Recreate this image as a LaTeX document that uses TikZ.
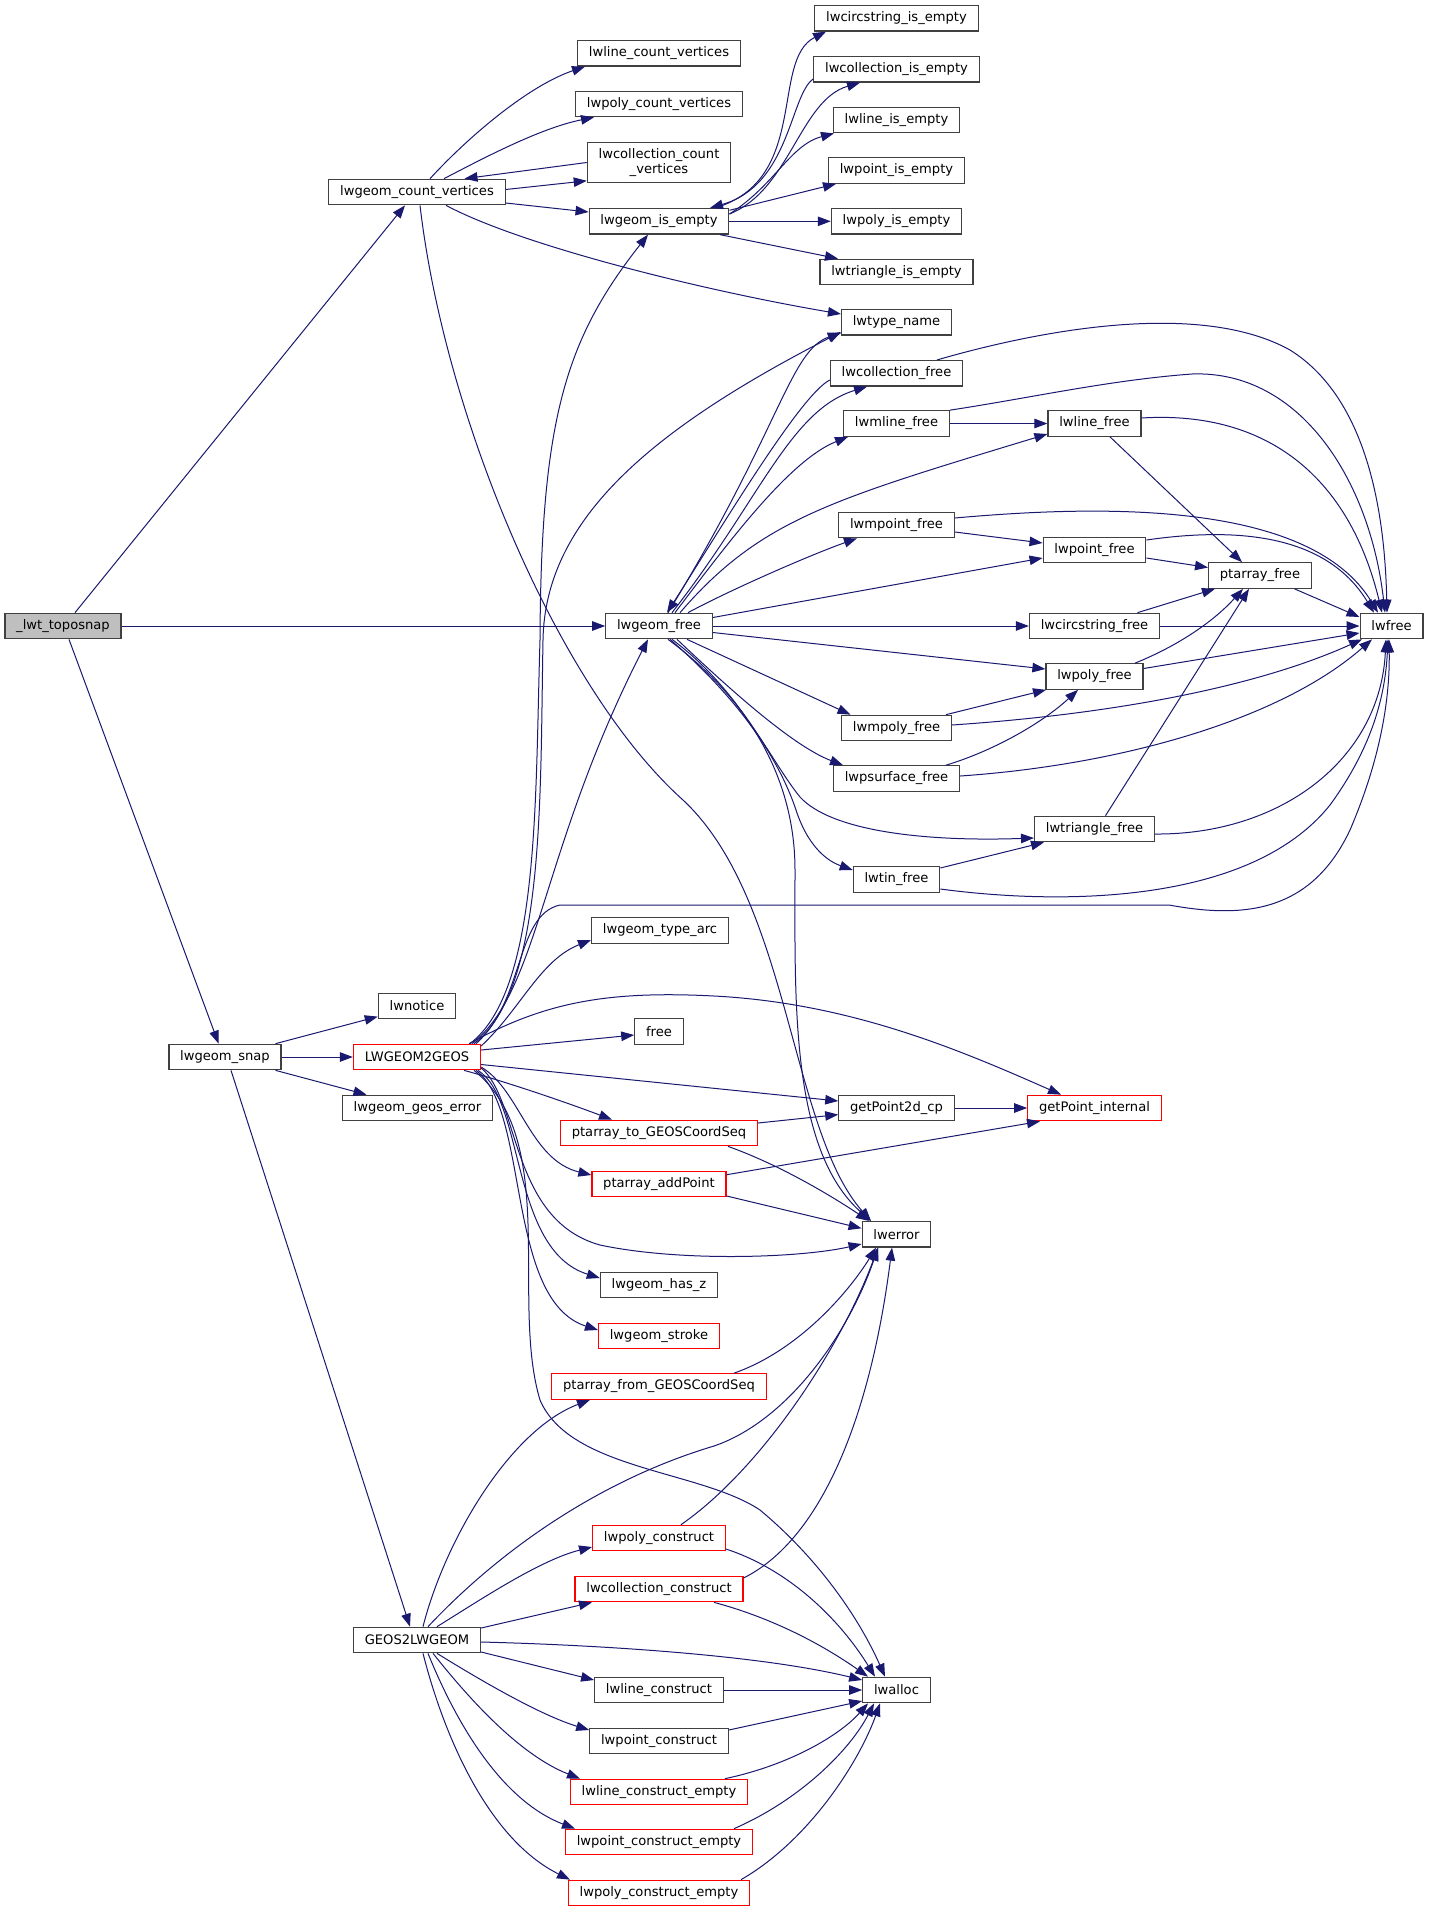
\documentclass[tikz,border=0pt]{standalone}
\usepackage{fontspec}
\setmainfont{DejaVu Sans}
\usetikzlibrary{arrows.meta}
\definecolor{edgeblue}{HTML}{191970}
\definecolor{rootgray}{HTML}{BFBFBF}
\begin{document}
\begin{tikzpicture}[x=1pt,y=-1pt,>={Triangle[length=13pt,width=9.5pt]},
    fn/.style={draw=black!75,fill=white,line width=1.2pt,minimum height=25.5pt,inner xsep=11.3pt,inner ysep=1pt,font=\fontsize{13.1pt}{14.5pt}\selectfont},
    fnred/.style={fn,draw=red},
    fnroot/.style={fn,fill=rootgray},
    calls/.style={->,color=edgeblue,line width=1pt}]
    \fill[white] (0,0) rectangle (1428,1912);
    \useasboundingbox (0,0) rectangle (1428,1912);

    \node[fnroot] (T) at (63,626) {\_lwt\_toposnap};
    \node[fn] (S) at (225,1057) {lwgeom\_snap};
    \node[fn] (CV) at (417,192) {lwgeom\_count\_vertices};
    \node[fn] (N) at (417,1006) {lwnotice};
    \node[fnred] (L2G) at (417,1057) {LWGEOM2GEOS};
    \node[fn] (GE) at (417.5,1108) {lwgeom\_geos\_error};
    \node[fn] (G2L) at (417,1640) {GEOS2LWGEOM};

    \node[fn] (LCV) at (659,53.3) {lwline\_count\_vertices};
    \node[fn] (PCV) at (659,104) {lwpoly\_count\_vertices};
    \node[fn,align=center,minimum height=40pt] (CCV) at (659,162.5) {lwcollection\_count\\\_vertices};
    \node[fn] (IE) at (659,221.3) {lwgeom\_is\_empty};
    \node[fn] (F) at (659,626) {lwgeom\_free};
    \node[fn] (TA) at (660,930.5) {lwgeom\_type\_arc};
    \node[fn] (FR) at (659,1031.5) {free};
    \node[fnred] (TGS) at (659,1133) {ptarray\_to\_GEOSCoordSeq};
    \node[fnred] (AP) at (659,1184) {ptarray\_addPoint};
    \node[fn] (HZ) at (659,1285) {lwgeom\_has\_z};
    \node[fnred] (ST) at (659,1336) {lwgeom\_stroke};
    \node[fnred] (FGS) at (659,1386.5) {ptarray\_from\_GEOSCoordSeq};
    \node[fnred] (PC) at (659,1538) {lwpoly\_construct};
    \node[fnred] (CC) at (659,1589) {lwcollection\_construct};
    \node[fn] (LC) at (659,1690) {lwline\_construct};
    \node[fn] (PtC) at (659,1741) {lwpoint\_construct};
    \node[fnred] (LCE) at (659,1792) {lwline\_construct\_empty};
    \node[fnred] (PtCE) at (659,1842) {lwpoint\_construct\_empty};
    \node[fnred] (PCE) at (659,1893) {lwpoly\_construct\_empty};

    \node[fn] (CSE) at (896.5,18.3) {lwcircstring\_is\_empty};
    \node[fn] (CoE) at (896.5,69.3) {lwcollection\_is\_empty};
    \node[fn] (LE) at (896.5,120) {lwline\_is\_empty};
    \node[fn] (PtE) at (896.5,170.5) {lwpoint\_is\_empty};
    \node[fn] (PE) at (896.5,221.3) {lwpoly\_is\_empty};
    \node[fn] (TrE) at (896.5,272) {lwtriangle\_is\_empty};
    \node[fn] (TN) at (896.5,322.3) {lwtype\_name};
    \node[fn] (CoF) at (896.5,373.3) {lwcollection\_free};
    \node[fn] (MLF) at (896.5,423.5) {lwmline\_free};
    \node[fn] (MPtF) at (896.5,525) {lwmpoint\_free};
    \node[fn] (MPF) at (896.5,728) {lwmpoly\_free};
    \node[fn] (PSF) at (896.5,778.5) {lwpsurface\_free};
    \node[fn] (TinF) at (896.5,879.5) {lwtin\_free};
    \node[fn] (P2D) at (896.5,1108) {getPoint2d\_cp};
    \node[fn] (ER) at (896.5,1234.3) {lwerror};
    \node[fn] (AL) at (896.5,1690) {lwalloc};

    \node[fn] (LF) at (1094.5,423.5) {lwline\_free};
    \node[fn] (PtF) at (1094.5,550) {lwpoint\_free};
    \node[fn] (CSF) at (1094.5,626) {lwcircstring\_free};
    \node[fn] (PF) at (1094.5,676.5) {lwpoly\_free};
    \node[fn] (TrF) at (1094.5,829) {lwtriangle\_free};
    \node[fnred] (GPI) at (1094.5,1108) {getPoint\_internal};
    \node[fn] (PAF) at (1260,575.5) {ptarray\_free};
    \node[fn] (LWF) at (1391.5,626) {lwfree};

    \draw[calls] ([xshift=12pt]T.north) -- ([xshift=-12pt]CV.south);
    \draw[calls] (T.east) -- (F.west);
    \draw[calls] ([xshift=6pt]T.south) -- ([xshift=-6.4pt]S.north);

    \draw[calls] ([xshift=13pt]CV.north) .. controls (470,135) and (530,85) .. ([xshift=-74pt]LCV.south);
    \draw[calls] ([xshift=27pt]CV.north) .. controls (480,160) and (540,128) .. ([xshift=-65pt]PCV.south);
    \draw[calls] ([yshift=2.5pt]CV.east) -- ([yshift=-18.3pt]CCV.west);
    \draw[calls] (CCV.west) -- ([xshift=47.5pt]CV.north);
    \draw[calls] ([yshift=-11pt]CV.east) -- ([yshift=9.3pt]IE.west);
    \draw[calls] ([xshift=29pt]CV.south) .. controls (520,245) and (700,290) .. ([yshift=8.3pt]TN.west);
    \draw[calls] ([xshift=3pt]CV.south) .. controls (445,420) and (560,690) .. (683,800) .. controls (790,900) and (790,1130) .. ([xshift=-25.5pt]ER.north);

    \draw[calls] ([xshift=56pt]IE.north) .. controls (810,180) and (770,60) .. ([xshift=-70.5pt]CSE.south);
    \draw[calls] ([yshift=7.3pt]IE.east) .. controls (790,190) and (800,100) .. ([xshift=-36.5pt]CoE.south);
    \draw[calls] ([yshift=-9.7pt]CoE.west) .. controls (790,95) and (790,185) .. ([xshift=51pt]IE.north);
    \draw[calls] ([yshift=7.3pt]IE.east) .. controls (775,185) and (790,145) .. ([xshift=-62.5pt]LE.south);
    \draw[calls] ([yshift=11pt]IE.east) -- ([xshift=-60.5pt]PtE.south);
    \draw[calls] (IE.east) -- (PE.west);
    \draw[calls] ([xshift=61pt]IE.south) -- ([xshift=-58.5pt]TrE.north);

    \draw[calls] ([xshift=53pt]L2G.north) .. controls (540,990) and (535,800) .. (540,640) .. controls (541,420) and (565,340) .. ([xshift=-11pt]IE.south);
    \draw[calls] ([xshift=57pt]L2G.north) .. controls (545,990) and (540,800) .. (543,640) .. controls (545,520) and (650,430) .. ([yshift=-9.7pt]TN.west);
    \draw[calls] ([xshift=55pt]L2G.north) .. controls (540,990) and (540,850) .. ([xshift=-11pt]F.south);
    \draw[calls] ([xshift=59pt]L2G.north) .. controls (525,1000) and (515,915) .. (560,905) -- (1169,905) .. controls (1240,918) and (1310,915) .. (1350,830) .. controls (1380,760) and (1390,700) .. ([xshift=-2.5pt]LWF.south);
    \draw[calls] ([yshift=11pt]L2G.east) .. controls (520,1010) and (540,960) .. ([yshift=-9.5pt]TA.west);
    \draw[calls] ([yshift=7pt]L2G.east) -- ([yshift=-3.5pt]FR.west);
    \draw[calls] ([xshift=52pt]L2G.north) .. controls (540,1005) and (600,990) .. (714,996) .. controls (850,1003) and (960,1050) .. ([xshift=-33.5pt]GPI.north);
    \draw[calls] ([yshift=-7.5pt]L2G.east) -- ([yshift=7pt]P2D.west);
    \draw[calls] ([xshift=47pt]L2G.south) .. controls (500,1080) and (560,1100) .. ([xshift=-47pt]TGS.north);
    \draw[calls] ([yshift=-10pt]L2G.east) .. controls (520,1090) and (530,1160) .. ([yshift=9pt]AP.west);
    \draw[calls] ([yshift=-11pt]L2G.east) .. controls (520,1100) and (510,1220) .. (600,1245) .. controls (680,1262) and (800,1258) .. ([yshift=-9.7pt]ER.west);
    \draw[calls] ([xshift=61pt]L2G.south) .. controls (525,1100) and (510,1250) .. ([yshift=7pt]HZ.west);
    \draw[calls] ([xshift=59pt]L2G.south) .. controls (530,1110) and (505,1300) .. ([yshift=6pt]ST.west);
    \draw[calls] ([xshift=57pt]L2G.south) .. controls (560,1140) and (510,1300) .. (540,1400) .. controls (570,1470) and (700,1470) .. (760,1510) .. controls (820,1560) and (860,1620) .. ([xshift=-11.5pt]AL.north);

    \draw[calls] ([xshift=50.5pt]S.north) -- ([yshift=-10.6pt]N.west);
    \draw[calls] (S.east) -- (L2G.west);
    \draw[calls] ([xshift=50.5pt]S.south) -- ([xshift=-51pt]GE.north);
    \draw[calls] ([xshift=6pt]S.south) -- ([xshift=-7pt]G2L.north);

    \draw[calls] ([xshift=6pt]G2L.north) .. controls (445,1540) and (510,1430) .. ([xshift=-69pt]FGS.south);
    \draw[calls] ([xshift=11pt]G2L.north) .. controls (500,1550) and (600,1480) .. (714,1446) .. controls (790,1420) and (850,1330) .. ([xshift=-18.5pt]ER.south);
    \draw[calls] ([xshift=20pt]G2L.north) .. controls (480,1600) and (540,1560) .. ([yshift=-9pt]PC.west);
    \draw[calls] ([yshift=12pt]G2L.east) -- ([xshift=-67pt]CC.south);
    \draw[calls] ([yshift=-2pt]G2L.east) .. controls (600,1645) and (760,1655) .. ([yshift=10pt]AL.west);
    \draw[calls] ([yshift=-12pt]G2L.east) -- ([yshift=10pt]LC.west);
    \draw[calls] ([xshift=20pt]G2L.south) .. controls (480,1680) and (540,1715) .. ([yshift=11pt]PtC.west);
    \draw[calls] ([xshift=16pt]G2L.south) .. controls (470,1700) and (520,1755) .. ([xshift=-79pt]LCE.north);
    \draw[calls] ([xshift=11pt]G2L.south) .. controls (455,1720) and (500,1800) .. ([xshift=-84pt]PtCE.north);
    \draw[calls] ([xshift=6pt]G2L.south) .. controls (445,1740) and (490,1840) .. ([xshift=-89pt]PCE.north);

    \draw[calls] ([xshift=69pt]TGS.south) .. controls (780,1165) and (830,1195) .. ([xshift=-27.5pt]ER.north);
    \draw[calls] ([yshift=-12pt]AP.east) -- ([yshift=6pt]ER.west);
    \draw[calls] ([xshift=75pt]FGS.north) .. controls (800,1350) and (850,1290) .. ([xshift=-20.5pt]ER.south);
    \draw[calls] ([xshift=22pt]PC.north) .. controls (760,1470) and (840,1350) .. ([xshift=-18.5pt]ER.south);
    \draw[calls] ([yshift=11pt]CC.east) .. controls (820,1540) and (870,1420) .. ([xshift=-4.5pt]ER.south);

    \draw[calls] ([yshift=-11pt]PC.east) .. controls (790,1570) and (840,1620) .. ([xshift=-21.5pt]AL.north);
    \draw[calls] ([xshift=55pt]CC.south) .. controls (780,1620) and (830,1650) .. ([xshift=-28.5pt]AL.north);
    \draw[calls] (LC.east) -- (AL.west);
    \draw[calls] ([yshift=11pt]PtC.east) -- ([yshift=-11pt]AL.west);
    \draw[calls] ([xshift=66pt]LCE.north) .. controls (790,1765) and (840,1735) .. ([xshift=-28.5pt]AL.south);
    \draw[calls] ([xshift=75pt]PtCE.north) .. controls (800,1800) and (850,1750) .. ([xshift=-22.5pt]AL.south);
    \draw[calls] ([xshift=82pt]PCE.north) .. controls (810,1840) and (860,1760) .. ([xshift=-16.5pt]AL.south);

    \draw[calls] (P2D.east) -- (GPI.west);
    \draw[calls] ([yshift=10pt]TGS.east) -- ([yshift=-6.6pt]P2D.west);
    \draw[calls] ([yshift=9.3pt]AP.east) -- ([xshift=-54.5pt]GPI.south);

    \draw[calls] ([xshift=9pt]F.north) .. controls (780,430) and (790,350) .. ([yshift=-10.7pt]TN.west);
    \draw[calls] ([xshift=13pt]F.north) .. controls (760,500) and (790,410) .. ([xshift=-29.5pt]CoF.south);
    \draw[calls] ([yshift=-6.7pt]CoF.west) .. controls (800,395) and (720,530) .. ([xshift=8pt]F.north);
    \draw[calls] ([xshift=16pt]F.north) .. controls (730,540) and (790,460) .. ([xshift=-48.5pt]MLF.south);
    \draw[calls] ([xshift=21pt]F.north) .. controls (760,520) and (830,500) .. ([yshift=-10.5pt]LF.west);
    \draw[calls] ([xshift=29pt]F.north) .. controls (730,590) and (810,555) .. ([xshift=-39.5pt]MPtF.south);
    \draw[calls] ([yshift=8.5pt]F.east) -- ([yshift=-8pt]PtF.west);
    \draw[calls] (F.east) -- (CSF.west);
    \draw[calls] ([yshift=-6.5pt]F.east) -- ([yshift=7.5pt]PF.west);
    \draw[calls] ([xshift=28pt]F.south) -- ([xshift=-46pt]MPF.north);
    \draw[calls] ([xshift=18pt]F.south) .. controls (720,680) and (790,745) .. ([xshift=-53.5pt]PSF.north);
    \draw[calls] ([xshift=13pt]F.south) .. controls (740,690) and (770,760) .. (800,797) .. controls (830,830) and (920,842) .. ([yshift=-9pt]TrF.west);
    \draw[calls] ([xshift=11pt]F.south) .. controls (740,700) and (780,760) .. (797,813) .. controls (810,850) and (830,862) .. ([yshift=9.5pt]TinF.west);
    \draw[calls] ([xshift=9pt]F.south) .. controls (750,700) and (795,780) .. (795,870) .. controls (795,1000) and (790,1150) .. ([xshift=-25.5pt]ER.north);

    \draw[calls] ([xshift=40.5pt]CoF.north) .. controls (1040,330) and (1200,300) .. (1290,350) .. controls (1370,400) and (1385,520) .. ([xshift=-4.5pt]LWF.north);
    \draw[calls] (MLF.north east) .. controls (1030,398) and (1110,380) .. (1192,374) .. controls (1300,370) and (1370,480) .. ([xshift=-6.5pt]LWF.north);
    \draw[calls] (MLF.east) -- (LF.west);
    \draw[calls] ([xshift=15.5pt]LF.south) -- ([xshift=-18pt]PAF.north);
    \draw[calls] ([yshift=5.5pt]LF.east) .. controls (1270,410) and (1350,480) .. ([xshift=-9.5pt]LWF.north);
    \draw[calls] ([yshift=7pt]MPtF.east) .. controls (1100,505) and (1310,500) .. ([xshift=-13.5pt]LWF.north);
    \draw[calls] ([yshift=-7pt]MPtF.east) -- ([yshift=7pt]PtF.west);
    \draw[calls] ([yshift=-8pt]PtF.east) -- ([yshift=8pt]PAF.west);
    \draw[calls] ([yshift=10pt]PtF.east) .. controls (1250,525) and (1330,540) .. ([xshift=-17.5pt]LWF.north);
    \draw[calls] ([xshift=34.5pt]PAF.south) -- ([yshift=9pt]LWF.west);
    \draw[calls] ([xshift=43pt]CSF.north) -- ([xshift=-45pt]PAF.south);
    \draw[calls] (CSF.east) -- (LWF.west);
    \draw[calls] ([xshift=40.5pt]PF.north) .. controls (1180,645) and (1215,620) .. ([xshift=-17pt]PAF.south);
    \draw[calls] ([yshift=8pt]PF.east) -- ([yshift=-7pt]LWF.west);
    \draw[calls] ([xshift=11pt]TrF.north) -- ([xshift=-11pt]PAF.south);
    \draw[calls] ([yshift=-5pt]TrF.east) .. controls (1280,835) and (1380,760) .. ([xshift=-5.5pt]LWF.south);
    \draw[calls] ([yshift=11.5pt]TinF.east) -- ([xshift=-50.5pt]TrF.south);
    \draw[calls] ([yshift=-9.5pt]TinF.east) .. controls (1060,905) and (1250,905) .. (1330,805) .. controls (1370,750) and (1385,700) .. ([xshift=-3.5pt]LWF.south);
    \draw[calls] ([xshift=49.5pt]MPF.north) -- ([xshift=-48.5pt]PF.south);
    \draw[calls] ([yshift=3pt]MPF.east) .. controls (1100,715) and (1250,690) .. ([xshift=-29.5pt]LWF.south);
    \draw[calls] ([xshift=49.5pt]PSF.north) .. controls (990,752) and (1040,725) .. ([xshift=-16.5pt]PF.south);
    \draw[calls] ([yshift=2.5pt]PSF.east) .. controls (1120,765) and (1280,720) .. ([xshift=-19.5pt]LWF.south);
\end{tikzpicture}
\end{document}
